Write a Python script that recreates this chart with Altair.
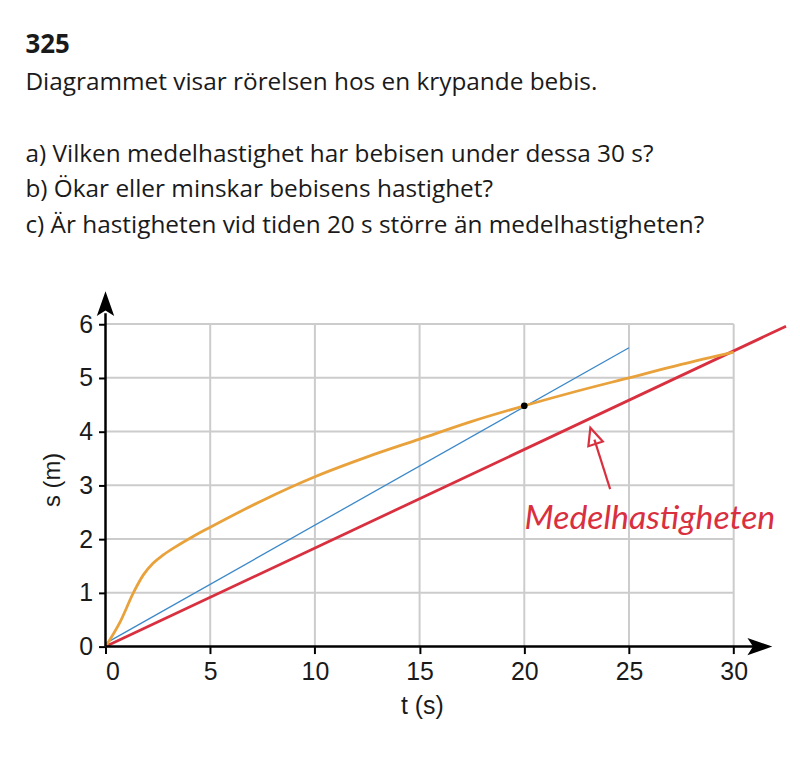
import altair as alt
import pandas as pd

# ---- text ----
heading = "325"
intro_line = "Diagrammet visar rörelsen hos en krypande bebis."
question_lines = [
    "a) Vilken medelhastighet har bebisen under dessa 30 s?",
    "b) Ökar eller minskar bebisens hastighet?",
    "c) Är hastigheten vid tiden 20 s större än medelhastigheten?",
]
x_title = "t (s)"
y_title = "s (m)"
x_ticks = [0, 5, 10, 15, 20, 25, 30]
y_ticks = [0, 1, 2, 3, 4, 5, 6]

# ---- series ----
orange_t = [0, 0.7, 1.33, 1.8, 2.27, 2.74, 3.36, 4.14, 5, 7.5, 10, 12.5, 15, 17.5, 20, 22.5, 25, 27.5, 30]
orange_s = [0, 0.46, 1.0, 1.33, 1.55, 1.70, 1.86, 2.04, 2.22, 2.72, 3.16, 3.53, 3.86, 4.19, 4.48, 4.75, 5.0, 5.25, 5.48]
blue_t = [0, 25]
blue_s = [0.06, 5.56]
red_t = [0, 32.5]
red_s = [0, 5.96]
dot_t = [20]
dot_s = [4.48]

# annotation
ann_label = ["Medelhastigheten"]
ann_t = [26.0]
ann_s = [2.37]
arrow_t = [24.1, 23.35]
arrow_s = [2.93, 3.85]
arrowhead_t = [23.28]
arrowhead_s = [3.92]

# axis arrows
xaxis_t = [0, 31.0]
xaxis_s = [0, 0]
yaxis_t = [0, 0]
yaxis_s = [0, 6.2]
axis_head_t = [31.25, 0]
axis_head_s = [0, 6.38]
axis_head_angle = [90, 0]

# grid extents
grid_t_max = 30
grid_s_max = 6

RED = "#d9303f"
ORANGE = "#e9a23b"
BLUE = "#3b88c9"
GRID = "#cccccc"
INK = "#1a1a1a"

X_DOMAIN = [0, 32.5]
Y_DOMAIN = [0, 6.7]

xs = alt.Scale(domain=X_DOMAIN, nice=False, zero=False)
ys = alt.Scale(domain=Y_DOMAIN, nice=False, zero=False)

vgrid = pd.DataFrame({"t": x_ticks[1:], "s0": 0, "s1": grid_s_max})
hgrid = pd.DataFrame({"s": y_ticks[1:], "t0": 0, "t1": grid_t_max})

base_x_axis = alt.Axis(
    values=x_ticks, format="d", grid=False, domain=False, tickColor="black", tickWidth=2, tickSize=7,
    labelFont="Liberation Sans", labelFontSize=25, labelColor=INK, labelPadding=6,
    title=x_title, titleFont="Liberation Sans", titleFontSize=25, titleFontWeight="normal",
    titleColor=INK, titleX=318, titleY=59, titleBaseline="middle", titleAlign="center",
)
base_y_axis = alt.Axis(
    values=y_ticks, format="d", grid=False, domain=False, tickColor="black", tickWidth=2, tickSize=7,
    labelFont="Liberation Sans", labelFontSize=25, labelColor=INK, labelPadding=6,
    title=y_title, titleFont="Liberation Sans", titleFontSize=24, titleFontWeight="normal",
    titleColor=INK, titleX=-53, titleY=194, titleAngle=270, titleBaseline="middle", titleAlign="center",
)

vg = alt.Chart(vgrid).mark_rule(color=GRID, strokeWidth=2).encode(
    x=alt.X("t:Q", scale=xs, axis=base_x_axis),
    y=alt.Y("s0:Q", scale=ys, axis=base_y_axis),
    y2="s1:Q",
)
hg = alt.Chart(hgrid).mark_rule(color=GRID, strokeWidth=2).encode(
    y=alt.Y("s:Q", scale=ys), x=alt.X("t0:Q", scale=xs), x2="t1:Q"
)

axes_df = pd.concat([
    pd.DataFrame({"t": xaxis_t, "s": xaxis_s, "g": "x"}),
    pd.DataFrame({"t": yaxis_t, "s": yaxis_s, "g": "y"}),
])
axis_lines = alt.Chart(axes_df).mark_line(color="black", strokeWidth=2.5).encode(
    x=alt.X("t:Q", scale=xs), y=alt.Y("s:Q", scale=ys), detail="g:N"
)
heads_df = pd.DataFrame({"t": axis_head_t, "s": axis_head_s, "a": axis_head_angle})
arrow_path = "M0,-1L0.7,1L0,0.55L-0.7,1Z"
axis_heads = alt.Chart(heads_df).mark_point(
    shape=arrow_path, filled=True, color="black", size=625, opacity=1
).encode(
    x=alt.X("t:Q", scale=xs), y=alt.Y("s:Q", scale=ys),
    angle=alt.Angle("a:Q", scale=None),
)

red = alt.Chart(pd.DataFrame({"t": red_t, "s": red_s})).mark_line(color=RED, strokeWidth=2.8).encode(
    x=alt.X("t:Q", scale=xs), y=alt.Y("s:Q", scale=ys)
)
blue = alt.Chart(pd.DataFrame({"t": blue_t, "s": blue_s})).mark_line(color=BLUE, strokeWidth=1.3).encode(
    x=alt.X("t:Q", scale=xs), y=alt.Y("s:Q", scale=ys)
)
orange = alt.Chart(pd.DataFrame({"t": orange_t, "s": orange_s})).mark_line(
    color=ORANGE, strokeWidth=2.8, interpolate="monotone"
).encode(x=alt.X("t:Q", scale=xs), y=alt.Y("s:Q", scale=ys))
dot = alt.Chart(pd.DataFrame({"t": dot_t, "s": dot_s})).mark_point(
    filled=True, color="black", size=45, opacity=1
).encode(x=alt.X("t:Q", scale=xs), y=alt.Y("s:Q", scale=ys))

ann_arrow = alt.Chart(pd.DataFrame({"t": arrow_t, "s": arrow_s})).mark_line(
    color=RED, strokeWidth=2.2
).encode(x=alt.X("t:Q", scale=xs), y=alt.Y("s:Q", scale=ys))
ann_head = alt.Chart(pd.DataFrame({"t": arrowhead_t, "s": arrowhead_s})).mark_point(
    shape="M0,-1L0.9,1L-0.9,1Z", filled=False, color=RED, strokeWidth=2.2, size=289, opacity=1, angle=342
).encode(x=alt.X("t:Q", scale=xs), y=alt.Y("s:Q", scale=ys))
ann_text = alt.Chart(pd.DataFrame({"t": ann_t, "s": ann_s, "label": ann_label})).mark_text(
    font="Lato", fontSize=34, fontStyle="italic", color=RED, align="center", baseline="middle"
).encode(x=alt.X("t:Q", scale=xs), y=alt.Y("s:Q", scale=ys), text="label:N")

plot = alt.layer(
    vg, hg, red, blue, orange, dot, axis_lines, axis_heads, ann_arrow, ann_head, ann_text
).properties(
    width=684,
    height=362,
    title=alt.TitleParams(
        text=question_lines,
        anchor="start",
        frame="group",
        dx=-80.5,
        offset=48,
        font="Open Sans",
        fontSize=24.5,
        fontWeight="normal",
        color=INK,
        lineHeight=36,
    ),
)

chart = alt.vconcat(plot).properties(
    padding={"left": 17, "top": 22, "right": 0, "bottom": 20},
    title=alt.TitleParams(
        text=heading,
        subtitle=[intro_line],
        anchor="start",
        frame="group",
        dx=-80.5,
        offset=47,
        font="Open Sans",
        fontSize=26,
        fontWeight="bold",
        color=INK,
        subtitleFont="Open Sans",
        subtitleFontSize=24.5,
        subtitleColor=INK,
        subtitleLineHeight=36,
        subtitlePadding=14,
    ),
).configure_view(stroke=None)

chart.save("out.html", embed_options={"renderer": "svg", "actions": False})
